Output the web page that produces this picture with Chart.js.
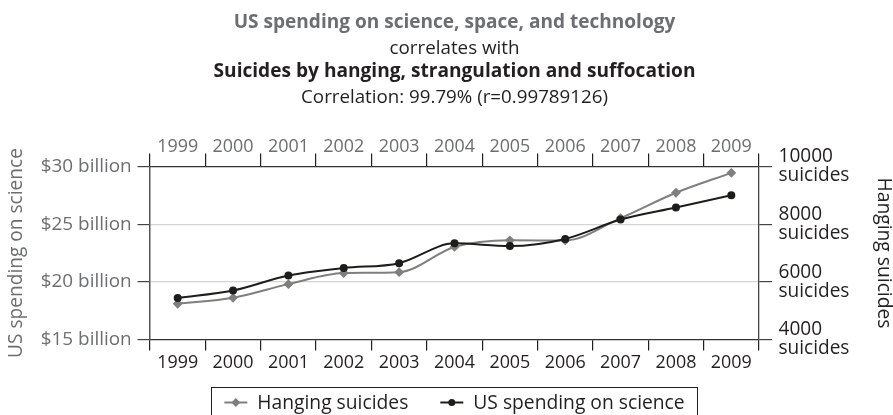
<!DOCTYPE html>
<html><head><meta charset="utf-8">
<script src="https://cdn.jsdelivr.net/npm/chart.js@4.4.1/dist/chart.umd.min.js"></script>
<style>html,body{margin:0;padding:0;background:#fff}canvas{display:block}</style>
</head><body>
<canvas id="c" width="893" height="415"></canvas>
<script>
// ---- data ----
const years = ['1999','2000','2001','2002','2003','2004','2005','2006','2007','2008','2009'];
const hangingSuicides = [5240, 5445, 5920, 6305, 6335, 7210, 7440, 7435, 8210, 9090, 9780];
const usSpendingBillions = [18.60, 19.24, 20.55, 21.20, 21.62, 23.34, 23.10, 23.72, 25.40, 26.45, 27.50];
const seriesNames = ['Hanging suicides', 'US spending on science'];
const titleLines = [
  'US spending on science, space, and technology',
  'correlates with',
  'Suicides by hanging, strangulation and suffocation',
  'Correlation: 99.79% (r=0.99789126)'
];
const leftAxisTitle = 'US spending on science';
const rightAxisTitle = 'Hanging suicides';
const rightTickUnit = 'suicides';

// ---- styles ----
const FAMILY = '"Open Sans", "Noto Sans", sans-serif';
const GRAY = '#7f7f7f';
const BLACK = '#1d1d1b';
const TXT_GRAY = '#6d6e71';
const TXT_DARK = '#231f20';
const mctx = document.createElement('canvas').getContext('2d');
function fitSize(text, target, weight) {
  mctx.font = (weight || 'normal') + ' 100px ' + FAMILY;
  return 100 * target / mctx.measureText(text).width;
}
const szLeftTick = fitSize('$30 billion', 91);
const szRightTick = fitSize('suicides', 71);
const szX = fitSize('2000', 41);
const szLegend = fitSize('Hanging suicides', 151);
const szLeftTitle = fitSize(leftAxisTitle, 210);
const szRightTitle = fitSize(rightAxisTitle, 151);
const titleStyle = [
  {w: 'bold', target: 442, color: TXT_GRAY, base: 28.3},
  {w: 'normal', target: 130, color: TXT_DARK, base: 54},
  {w: 'bold', target: 482, color: TXT_DARK, base: 77.3},
  {w: 'normal', target: 307, color: TXT_DARK, base: 103.3}
];

const titlePlugin = {
  id: 'titleBlock',
  afterDraw(chart) {
    const ctx = chart.ctx;
    const cx = (chart.chartArea.left + chart.chartArea.right) / 2;
    ctx.save();
    ctx.textAlign = 'center';
    ctx.textBaseline = 'alphabetic';
    titleLines.forEach((line, i) => {
      const st = titleStyle[i];
      ctx.font = st.w + ' ' + fitSize(line, st.target, st.w) + 'px ' + FAMILY;
      ctx.fillStyle = st.color;
      ctx.fillText(line, cx, st.base);
    });
    ctx.restore();
  }
};

const legendPlugin = {
  id: 'boxLegend',
  afterDraw(chart) {
    const ctx = chart.ctx;
    const cx = (chart.chartArea.left + chart.chartArea.right) / 2;
    ctx.save();
    ctx.font = 'normal ' + szLegend + 'px ' + FAMILY;
    const sample = 23, gapText = 10, gapItem = 32, padX = 13;
    const items = chart.data.datasets.map(ds => ({ds, w: ctx.measureText(ds.label).width}));
    let total = 0;
    items.forEach((it, i) => { total += sample + gapText + it.w + (i < items.length - 1 ? gapItem : 0); });
    let x = cx - total / 2;
    const boxTop = 387.5, lineY = 402.5, baseY = 408.5;
    ctx.strokeStyle = TXT_DARK;
    ctx.lineWidth = 1;
    ctx.strokeRect(Math.round(x - padX) + 0.5, boxTop, Math.round(total + 2 * padX), 40);
    items.forEach(it => {
      const ds = it.ds;
      ctx.strokeStyle = ds.borderColor;
      ctx.lineWidth = 2;
      ctx.beginPath(); ctx.moveTo(x, lineY); ctx.lineTo(x + sample, lineY); ctx.stroke();
      ctx.fillStyle = ds.pointBackgroundColor;
      ctx.strokeStyle = ds.pointBorderColor;
      Chart.helpers.drawPoint(ctx, {pointStyle: ds.pointStyle, radius: ds.pointRadius - 0.5, rotation: 0, borderWidth: 1}, x + sample / 2, lineY);
      ctx.fillStyle = TXT_DARK;
      ctx.textAlign = 'left';
      ctx.textBaseline = 'alphabetic';
      ctx.fillText(ds.label, x + sample + gapText, baseY);
      x += sample + gapText + it.w + gapItem;
    });
    ctx.restore();
  }
};

const edgeTransparent = (ctx) => {
  const v = ctx.tick && ctx.tick.value;
  return (v === 15 || v === 30) ? 'rgba(0,0,0,0)' : '#d4d4d4';
};

new Chart(document.getElementById('c'), {
  type: 'line',
  data: {
    labels: years,
    datasets: [
      {
        label: seriesNames[0], data: hangingSuicides, yAxisID: 'yR', xAxisID: 'x',
        borderColor: GRAY, backgroundColor: GRAY, pointBackgroundColor: GRAY, pointBorderColor: GRAY,
        pointStyle: 'rectRot', pointRadius: 3.5, borderWidth: 2, cubicInterpolationMode: 'monotone', order: 2
      },
      {
        label: seriesNames[1], data: usSpendingBillions, yAxisID: 'yL', xAxisID: 'x',
        borderColor: BLACK, backgroundColor: BLACK, pointBackgroundColor: BLACK, pointBorderColor: BLACK,
        pointStyle: 'circle', pointRadius: 3, borderWidth: 2, cubicInterpolationMode: 'monotone', order: 1
      }
    ]
  },
  options: {
    responsive: false,
    animation: false,
    devicePixelRatio: 1,
    layout: {padding: {top: 120, bottom: 35.5, left: 0, right: 0}, autoPadding: false},
    plugins: {legend: {display: false}, title: {display: false}, tooltip: {enabled: false}},
    scales: {
      x: {
        type: 'category', position: 'bottom', offset: true,
        grid: {drawOnChartArea: false, offset: true, tickLength: 11, tickColor: TXT_DARK, lineWidth: 1.2},
        border: {color: '#333', width: 1.3},
        ticks: {color: TXT_DARK, padding: 3.5, maxRotation: 0, autoSkip: false, font: {family: FAMILY, size: szX, lineHeight: 1}},
        afterFit: s => { s.height = 40; }
      },
      xTop: {
        type: 'category', position: 'top', offset: true, labels: years,
        grid: {drawOnChartArea: false, offset: true, tickLength: 13, tickColor: TXT_DARK, lineWidth: 1.2},
        border: {color: '#333', width: 1.3},
        ticks: {color: TXT_GRAY, padding: -2, maxRotation: 0, autoSkip: false, font: {family: FAMILY, size: szX, lineHeight: 1}},
        afterFit: s => { s.height = 46.5; }
      },
      yL: {
        type: 'linear', position: 'left', min: 15, max: 30,
        grid: {color: edgeTransparent, tickColor: '#444', tickLength: 12.5, lineWidth: 1.2},
        border: {color: '#555', width: 1.5},
        ticks: {stepSize: 5, color: TXT_GRAY, padding: 5.8, font: {family: FAMILY, size: szLeftTick, lineHeight: 1},
          callback: v => '$' + v + ' billion'},
        title: {display: true, text: leftAxisTitle, color: TXT_GRAY, padding: {top: 7, bottom: 0},
          font: {family: FAMILY, size: szLeftTitle, lineHeight: 1}},
        afterFit: s => { s.width = 150; }
      },
      yR: {
        type: 'linear', position: 'right', min: 4000, max: 10000,
        grid: {drawOnChartArea: false, tickColor: '#444', tickLength: 13, lineWidth: 1.2},
        border: {color: '#444', width: 1.3},
        ticks: {stepSize: 2000, color: TXT_DARK, padding: 6.5, font: {family: FAMILY, size: szRightTick, lineHeight: 1},
          callback: v => [String(v), rightTickUnit]},
        title: {display: true, text: rightAxisTitle, color: TXT_DARK, padding: {top: 0, bottom: 0},
          font: {family: FAMILY, size: szRightTitle, lineHeight: 1}},
        afterFit: s => { s.width = 134; }
      }
    }
  },
  plugins: [titlePlugin, legendPlugin]
});
</script>
</body></html>
